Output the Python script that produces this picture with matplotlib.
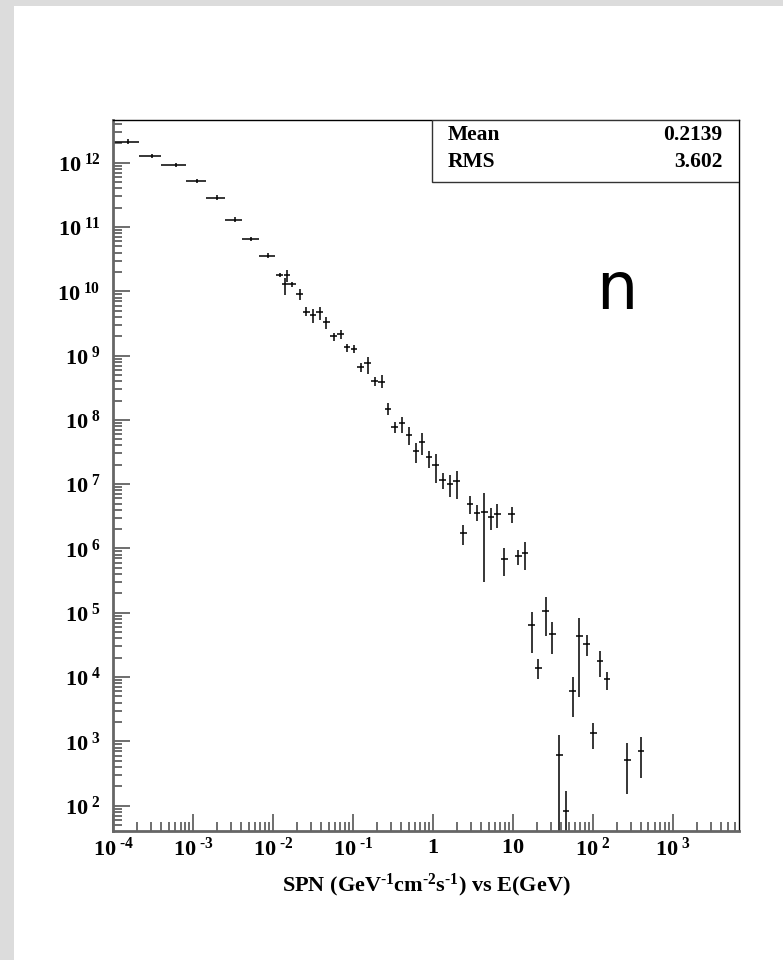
import numpy as np
import matplotlib
matplotlib.use("Agg")
import matplotlib.pyplot as plt
from matplotlib.ticker import LogLocator, FuncFormatter, NullFormatter
from matplotlib.patches import Rectangle

plt.rcParams['mathtext.fontset'] = 'custom'
plt.rcParams['mathtext.rm'] = 'Liberation Serif:bold'
plt.rcParams['mathtext.bf'] = 'Liberation Serif:bold'
plt.rcParams['mathtext.it'] = 'Liberation Serif:bold'
plt.rcParams['font.family'] = ['Liberation Serif', 'DejaVu Serif']
plt.rcParams['font.weight'] = 'bold'

# ---------------- data ----------------
# coarse bins: explicit edges (GeV)
coarse_lo = [1.0e-4, 2.10e-4, 4.04e-4, 8.30e-4, 1.445e-3, 2.55e-3, 4.08e-3, 6.67e-3]
coarse_hi = [2.10e-4, 4.04e-4, 8.30e-4, 1.445e-3, 2.55e-3, 4.08e-3, 6.67e-3, 1.067e-2]
coarse_flux = [2.12e12, 1.27e12, 9.2e11, 5.19e11, 2.86e11, 1.30e11, 6.5e10, 3.58e10]
coarse_flux_lo = [1.96e12, 1.17e12, 8.45e11, 4.75e11, 2.62e11, 1.19e11, 5.95e10, 3.28e10]
coarse_flux_hi = [2.30e12, 1.38e12, 1.00e12, 5.65e11, 3.12e11, 1.42e11, 7.10e10, 3.90e10]

# fine bins: centres (GeV), bin width in decades
fine_energy = [0.01220, 0.01506, 0.01438, 0.01759, 0.02172, 0.02634, 0.03184, 0.03864,
               0.04686, 0.05783, 0.07018, 0.0849, 0.1038, 0.1249, 0.1528, 0.1885,
               0.2307, 0.2766, 0.3355, 0.4140, 0.5067, 0.6145, 0.7366, 0.9013,
               1.093, 1.327, 1.637, 1.986, 2.402, 2.912, 3.594, 4.399, 5.336,
               6.397, 7.83, 9.69, 11.72, 14.21, 17.24, 20.85, 25.8, 31.2, 38.2,
               46.3, 56.2, 67.9, 84.1, 101.7, 123.4, 151.0, 271.1, 402.3]
fine_flux = [1.793e10, 1.79e10, 1.285e10, 1.299e10, 8.98e9, 4.82e9, 4.28e9, 4.82e9,
             3.37e9, 2.017e9, 2.167e9, 1.346e9, 1.267e9, 6.72e8, 7.59e8, 4.03e8,
             3.89e8, 1.477e8, 7.67e7, 8.85e7, 5.82e7, 3.32e7, 4.48e7, 2.62e7,
             1.989e7, 1.162e7, 1.007e7, 1.133e7, 1.723e6, 4.92e6, 3.61e6, 3.66e6, 3.06e6,
             3.44e6, 6.87e5, 3.44e6, 7.73e5, 8.51e5, 6.46e4, 1.371e4, 1.078e5, 4.68e4, 614,
             82.7, 6.14e3, 4.36e4, 3.27e4, 1337, 1.780e4, 9.44e3, 514, 709]
fine_flux_hi = [1.926e10, 2.145e10, 1.593e10, 1.41e10, 1.074e10, 5.64e9, 5.25e9, 5.76e9,
                4.03e9, 2.27e9, 2.50e9, 1.515e9, 1.462e9, 7.76e8, 9.61e8, 4.70e8,
                4.99e8, 1.812e8, 9.38e7, 1.098e8, 7.67e7, 4.33e7, 6.32e7, 3.32e7,
                2.95e7, 1.477e7, 1.390e7, 1.622e7, 2.32e6, 6.55e6, 4.75e6, 7.22e6, 4.22e6,
                4.92e6, 1.007e6, 4.37e6, 9.48e5, 1.249e6, 1.04e5, 1.891e4, 1.780e5, 7.12e4, 1258,
                169, 1.015e4, 8.21e4, 4.52e4, 1954, 2.55e4, 1.213e4, 934, 1158]
fine_flux_lo = [1.669e10, 1.41e10, 8.76e9, 1.179e10, 7.32e9, 4.13e9, 3.18e9, 3.58e9,
                2.565e9, 1.705e9, 1.792e9, 1.150e9, 1.11e9, 5.62e8, 5.17e8, 3.37e8,
                3.10e8, 1.192e8, 6.19e7, 6.19e7, 4.07e7, 2.16e7, 2.85e7, 1.767e7,
                1.033e7, 8.33e6, 6.39e6, 5.89e6, 1.134e6, 3.44e6, 2.71e6, 3.05e5, 1.94e6,
                2.06e6, 3.74e5, 2.47e6, 5.54e5, 4.63e5, 2.40e4, 9.24e3, 4.36e4, 2.29e4, 0,
                0, 2.37e3, 4.96e3, 2.13e4, 754, 1.015e4, 6.30e3, 150, 267]
fine_bin_dex = 0.0835

mean_val = "0.2139"
rms_val = "3.602"
x_title = r"SPN (GeV$^{\text{-1}}$cm$^{\text{-2}}$s$^{\text{-1}}$) vs E(GeV)"
particle = "n"

# ---------------- figure ----------------
W, H = 783, 960
fig = plt.figure(figsize=(W / 100, H / 100), dpi=100, facecolor='white')

# grey border (left and top)
fig.patches.append(Rectangle((0, 0), 14 / W, 1, transform=fig.transFigure,
                             facecolor='#dcdcdc', edgecolor='none', zorder=0))
fig.patches.append(Rectangle((0, 1 - 6 / H), 1, 6 / H, transform=fig.transFigure,
                             facecolor='#dcdcdc', edgecolor='none', zorder=0))

ax = fig.add_axes([113 / W, 1 - 830.7 / H, 626 / W, 710.7 / H])
ax.set_xscale('log')
ax.set_yscale('log')
ax.set_xlim(1e-4, 6.78e3)
ax.set_ylim(40.8, 4.61e12)

# coarse bins
cx = (np.array(coarse_lo) + np.array(coarse_hi)) / 2
cy = np.array(coarse_flux)
ax.errorbar(cx, cy,
            xerr=[cx - np.array(coarse_lo), np.array(coarse_hi) - cx],
            yerr=[cy - np.array(coarse_flux_lo), np.array(coarse_flux_hi) - cy],
            fmt='none', ecolor='black', elinewidth=1.1, capsize=0)

# fine bins
fx = np.array(fine_energy)
fy = np.array(fine_flux)
half = 10 ** (fine_bin_dex / 2)
flo = np.array(fine_flux_lo, dtype=float)
ax.errorbar(fx, fy,
            xerr=[fx - fx / half, fx * half - fx],
            yerr=[fy - flo, np.array(fine_flux_hi) - fy],
            fmt='none', ecolor='black', elinewidth=1.1, capsize=0)

# ticks
def xfmt(v, pos):
    e = int(round(np.log10(v)))
    if e == 0:
        return r'$\mathbf{1}$'
    if e == 1:
        return r'$\mathbf{10}$'
    return r'$\mathbf{10}^{\;\text{%d}}$' % e

def yfmt(v, pos):
    e = int(round(np.log10(v)))
    return r'$\mathbf{10}^{\;\text{%d}}$' % e

ax.xaxis.set_major_locator(LogLocator(base=10, numticks=30))
ax.xaxis.set_minor_locator(LogLocator(base=10, subs=np.arange(2, 10), numticks=30))
ax.yaxis.set_major_locator(LogLocator(base=10, numticks=30))
ax.yaxis.set_minor_locator(LogLocator(base=10, subs=np.arange(2, 10), numticks=30))
ax.xaxis.set_major_formatter(FuncFormatter(xfmt))
ax.yaxis.set_major_formatter(FuncFormatter(yfmt))
ax.xaxis.set_minor_formatter(NullFormatter())
ax.yaxis.set_minor_formatter(NullFormatter())

ax.tick_params(which='both', direction='in', top=False, right=False,
               color='#555555', width=1.2, labelsize=16)
ax.tick_params(which='major', length=12)
ax.tick_params(which='minor', length=6.5)
ax.tick_params(axis='x', which='major', pad=5)
ax.tick_params(axis='y', which='major', pad=9)

for s in ('left', 'bottom'):
    ax.spines[s].set_color('#666666')
    ax.spines[s].set_linewidth(2.0)
for s in ('top', 'right'):
    ax.spines[s].set_color('black')
    ax.spines[s].set_linewidth(1.0)

ax.set_xlabel(x_title, fontsize=16, fontweight='bold', labelpad=8)

# stats box
ax.add_patch(Rectangle((0.510, 0.9132), 0.49, 0.0868, transform=ax.transAxes,
                       facecolor='white', edgecolor='#333333', linewidth=1.0, zorder=5))
ax.text(0.535, 0.979, 'Mean', transform=ax.transAxes, fontsize=15.5,
        fontweight='bold', ha='left', va='center', zorder=6)
ax.text(0.974, 0.979, mean_val, transform=ax.transAxes, fontsize=15.5,
        fontweight='bold', ha='right', va='center', zorder=6)
ax.text(0.535, 0.941, 'RMS', transform=ax.transAxes, fontsize=15.5,
        fontweight='bold', ha='left', va='center', zorder=6)
ax.text(0.974, 0.941, rms_val, transform=ax.transAxes, fontsize=15.5,
        fontweight='bold', ha='right', va='center', zorder=6)

# particle label
fig.text(617 / W, 1 - 291 / H, particle, fontsize=47, family='DejaVu Sans',
         fontweight='normal', ha='center', va='center')

fig.savefig('out.png', dpi=100, facecolor=fig.get_facecolor())
